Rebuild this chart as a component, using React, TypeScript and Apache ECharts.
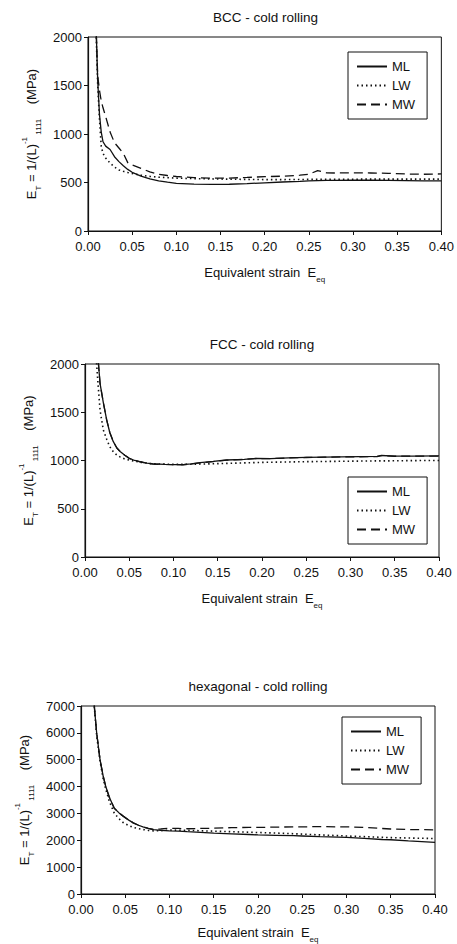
import React, { useEffect, useRef } from "react";
import * as echarts from "echarts";

// ---------- BCC ----------
const bccX = [0.007, 0.0095, 0.011, 0.013, 0.015, 0.017, 0.02, 0.025, 0.03, 0.035, 0.04, 0.045, 0.05, 0.06, 0.07, 0.08, 0.09, 0.10, 0.12, 0.14, 0.16, 0.18, 0.20, 0.22, 0.24, 0.25, 0.26, 0.27, 0.28, 0.30, 0.32, 0.34, 0.36, 0.38, 0.40];
const bccML = [2600, 2000, 1550, 1200, 1020, 920, 875, 840, 766, 715, 673, 635, 605, 565, 537, 517, 503, 492, 483, 480, 482, 488, 497, 505, 512, 516, 519, 521, 522, 524, 523, 521, 519, 517, 516];
const bccLW = [2600, 1950, 1500, 1150, 870, 800, 752, 700, 660, 630, 615, 603, 592, 575, 563, 555, 550, 545, 540, 537, 534, 532, 530, 530, 531, 532, 533, 533, 534, 534, 535, 535, 535, 535, 535];
const bccMW = [2600, 2000, 1600, 1450, 1340, 1270, 1180, 1020, 910, 856, 800, 705, 680, 645, 610, 585, 572, 562, 550, 545, 546, 552, 560, 565, 575, 585, 622, 600, 598, 600, 598, 595, 588, 585, 588];

// ---------- FCC ----------
const fccX = [0.012, 0.0145, 0.017, 0.0207, 0.0245, 0.028, 0.032, 0.036, 0.04, 0.045, 0.05, 0.055, 0.062, 0.07, 0.077, 0.09, 0.10, 0.111, 0.12, 0.13, 0.145, 0.16, 0.18, 0.194, 0.21, 0.23, 0.25, 0.27, 0.29, 0.31, 0.33, 0.335, 0.35, 0.37, 0.40];
const fccML = [2600, 2080, 1800, 1600, 1420, 1290, 1195, 1130, 1091, 1055, 1023, 1005, 988, 972, 964, 960, 958, 957, 965, 977, 990, 1005, 1012, 1022, 1020, 1028, 1032, 1035, 1038, 1040, 1042, 1052, 1045, 1046, 1047];
const fccLW = [2150, 1820, 1523, 1316, 1220, 1143, 1090, 1057, 1035, 1015, 1005, 995, 982, 972, 966, 962, 960, 960, 961, 963, 966, 970, 975, 979, 982, 985, 988, 990, 992, 994, 996, 996, 997, 999, 1000];
const fccMW = [2600, 2080, 1800, 1600, 1421, 1291, 1196, 1130, 1090, 1054, 1022, 1004, 987, 971, 963, 959, 957, 956, 964, 976, 989, 1004, 1011, 1021, 1019, 1027, 1031, 1034, 1037, 1039, 1041, 1051, 1044, 1045, 1046];

// ---------- hexagonal ----------
const hexX = [0.013, 0.015, 0.0177, 0.0215, 0.025, 0.028, 0.032, 0.0376, 0.043, 0.048, 0.054, 0.059, 0.065, 0.07, 0.076, 0.082, 0.09, 0.10, 0.11, 0.12, 0.135, 0.15, 0.17, 0.19, 0.20, 0.22, 0.24, 0.25, 0.27, 0.29, 0.30, 0.32, 0.34, 0.35, 0.37, 0.40];
const hexML = [8000, 7000, 6000, 5000, 4400, 4000, 3600, 3190, 3020, 2890, 2750, 2650, 2560, 2500, 2440, 2400, 2370, 2350, 2340, 2320, 2295, 2265, 2240, 2215, 2200, 2185, 2170, 2160, 2135, 2115, 2105, 2070, 2030, 2020, 1980, 1925];
const hexLW = [8000, 7000, 5900, 4950, 4300, 3900, 3450, 3010, 2800, 2650, 2550, 2480, 2430, 2400, 2370, 2350, 2360, 2380, 2375, 2370, 2355, 2340, 2320, 2300, 2290, 2270, 2245, 2230, 2200, 2175, 2160, 2135, 2110, 2100, 2085, 2065];
const hexMW = [8000, 7000, 6000, 5000, 4400, 4000, 3600, 3190, 3020, 2890, 2750, 2650, 2560, 2500, 2440, 2400, 2420, 2450, 2440, 2430, 2440, 2450, 2470, 2480, 2480, 2490, 2500, 2500, 2510, 2500, 2500, 2480, 2440, 2420, 2400, 2390];

const seriesNames = ["ML", "LW", "MW"];
const panelTitles = ["BCC - cold rolling", "FCC - cold rolling", "hexagonal - cold rolling"];
const yMaxes = [2000, 2000, 7000];
const yIntervals = [500, 500, 1000];

const FONT = "'Liberation Sans', Arial, sans-serif";
const INK = "#111";

const zip = (xs: number[], ys: number[]) => xs.map((x, i) => [x, ys[i]]);

const panels = [
  { x: bccX, ys: [bccML, bccLW, bccMW], grid: { left: 88, top: 37, width: 355, height: 194 }, legend: { left: 348, top: 52 }, nameGap: 30 },
  { x: fccX, ys: [fccML, fccLW, fccMW], grid: { left: 85, top: 364, width: 354, height: 193 }, legend: { left: 348, top: 477 }, nameGap: 30 },
  { x: hexX, ys: [hexML, hexLW, hexMW], grid: { left: 81, top: 706, width: 354, height: 194 }, legend: { left: 342, top: 717 }, nameGap: 27 },
];

const lineStyles: any[] = [
  { type: "solid", width: 1.3 },
  { type: [1.5, 3], width: 1.6 },
  { type: [9, 5], width: 1.3 },
];

const rich = {
  a: { fontSize: 13, fontFamily: FONT, color: INK, lineHeight: 22 },
  sub: { fontSize: 8, fontFamily: FONT, color: INK, verticalAlign: "bottom", lineHeight: 10 },
  sup: { fontSize: 8, fontFamily: FONT, color: INK, verticalAlign: "top", lineHeight: 10 },
};

export default function App() {
  const ref = useRef<HTMLDivElement>(null);
  useEffect(() => {
    const chart = echarts.init(ref.current!, null, { renderer: "svg" });
    const grid = panels.map((p) => ({ ...p.grid, show: true, borderColor: INK, borderWidth: 1, containLabel: false }));
    const xAxis = panels.map((p, i) => ({
      type: "value",
      gridIndex: i,
      min: 0,
      max: 0.4,
      interval: 0.05,
      axisLine: { show: true, lineStyle: { color: INK, width: 1.2 } },
      axisTick: { show: true, length: 4, lineStyle: { color: INK } },
      splitLine: { show: false },
      axisLabel: { margin: 9, fontSize: 13, fontFamily: FONT, color: INK, formatter: (v: number) => v.toFixed(2) },
      name: "{a|Equivalent strain  E}{sub|eq}",
      nameLocation: "middle",
      nameGap: p.nameGap,
      nameTextStyle: { rich },
    }));
    const yAxis = panels.map((p, i) => ({
      type: "value",
      gridIndex: i,
      min: 0,
      max: yMaxes[i],
      interval: yIntervals[i],
      axisLine: { show: true, lineStyle: { color: INK, width: 1.2 } },
      axisTick: { show: true, length: 4, lineStyle: { color: INK } },
      splitLine: { show: false },
      axisLabel: { margin: 6, fontSize: 13, fontFamily: FONT, color: INK, formatter: (v: number) => String(v) },
      name: "{a|E}{sub|T}{a| = 1/(L)}{sup|-1}{sub| 1111}{a|    (MPa)}",
      nameLocation: "middle",
      nameRotate: 90,
      nameGap: 37,
      nameTextStyle: { rich },
    }));
    const series: any[] = [];
    panels.forEach((p, i) => {
      p.ys.forEach((ys, k) => {
        series.push({
          type: "line",
          name: seriesNames[k],
          xAxisIndex: i,
          yAxisIndex: i,
          data: zip(p.x, ys),
          symbol: "none",
          clip: true,
          lineStyle: { color: INK, ...lineStyles[k] },
          itemStyle: { color: INK },
          z: 3 - k,
        });
      });
    });
    const legend = panels.map((p) => ({
      data: seriesNames,
      orient: "vertical",
      left: p.legend.left,
      top: p.legend.top,
      padding: [8, 12, 8, 8],
      itemGap: 6,
      itemWidth: 30,
      itemHeight: 10,
      borderColor: INK,
      borderWidth: 1,
      selectedMode: false,
      itemStyle: { opacity: 0 },
      textStyle: { fontSize: 13, fontFamily: FONT, color: INK },
    }));
    const graphic = panels.map((p, i) => ({
      type: "text",
      x: p.grid.left + p.grid.width / 2,
      y: p.grid.top - 20,
      style: { text: panelTitles[i], font: `13.5px ${FONT}`, fill: INK, align: "center", verticalAlign: "middle" },
    }));
    chart.setOption({
      animation: false,
      backgroundColor: "#fff",
      grid,
      xAxis,
      yAxis,
      series,
      legend,
      graphic,
    });
    return () => chart.dispose();
  }, []);
  return <div ref={ref} style={{ position: "fixed", left: 0, top: 0, width: 457, height: 944, background: "#fff" }} />;
}
